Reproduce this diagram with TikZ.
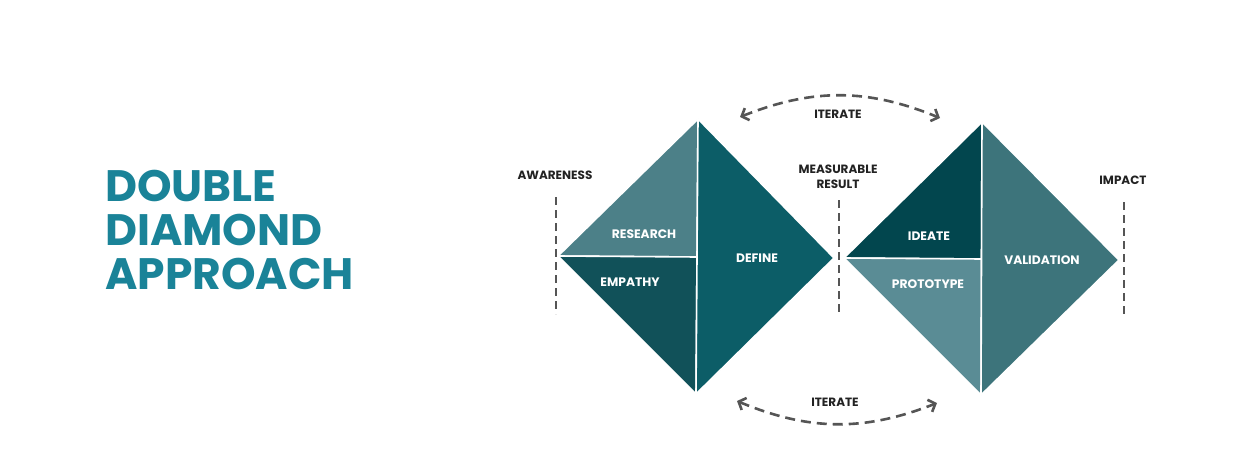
\documentclass[tikz,border=0pt]{standalone}
\usepackage{fontspec}
\setmainfont{Poppins}
\usetikzlibrary{arrows.meta}

\definecolor{titleteal}{HTML}{1A8398}
\definecolor{research}{HTML}{4C8088}
\definecolor{empathy}{HTML}{115159}
\definecolor{define}{HTML}{0C5D67}
\definecolor{ideate}{HTML}{02464E}
\definecolor{prototype}{HTML}{5A8C95}
\definecolor{validation}{HTML}{3D747B}
\definecolor{dashgray}{HTML}{555555}
\definecolor{labelink}{HTML}{222222}

\begin{document}
\begin{tikzpicture}[x=1pt,y=-1pt,
  piece/.style={draw=white,line width=1.6pt,line join=miter},
  inlbl/.style={text=white,inner sep=0pt,anchor=base,font=\fontsize{12.3}{14}\selectfont\bfseries},
  outlbl/.style={text=labelink,inner sep=0pt,align=center,font=\fontsize{12}{14.5}\selectfont\bfseries},
  stage/.style={draw=dashgray,line width=2.2pt,dash pattern=on 8pt off 5pt},
  loop/.style={draw=dashgray,line width=2.6pt,dash pattern=on 10pt off 6pt,
    {Straight Barb[length=6pt,width=13pt]}-{Straight Barb[length=6pt,width=13pt]}}]
  \useasboundingbox (0,0) rectangle (1236,476);

  % Title
  \node[anchor=north west,inner sep=0pt,align=left,text=titleteal,
    font=\fontsize{44}{44}\selectfont\bfseries] (title) at (105,170)
    {DOUBLE\\DIAMOND\\APPROACH};

  % First diamond corners
  \coordinate (t1) at (698,119);
  \coordinate (l1) at (558,256);
  \coordinate (r1) at (834,258);
  \coordinate (b1) at (696,394);
  \coordinate (c1) at (697,257);

  % Second diamond corners
  \coordinate (t2) at (982,122);
  \coordinate (l2) at (844,258);
  \coordinate (r2) at (1119,260);
  \coordinate (b2) at (981,395);
  \coordinate (c2) at (981.5,259);

  % First diamond pieces
  \filldraw[piece,fill=research] (l1)--(t1)--(c1)--cycle;
  \filldraw[piece,fill=empathy] (l1)--(c1)--(b1)--cycle;
  \filldraw[piece,fill=define] (t1)--(r1)--(b1)--cycle;

  % Second diamond pieces
  \filldraw[piece,fill=ideate] (l2)--(t2)--(c2)--cycle;
  \filldraw[piece,fill=prototype] (l2)--(c2)--(b2)--cycle;
  \filldraw[piece,fill=validation] (t2)--(r2)--(b2)--cycle;

  % Labels inside the pieces
  \node[inlbl] (research) at (644,238) {RESEARCH};
  \node[inlbl] (empathy) at (630,286) {EMPATHY};
  \node[inlbl] (define) at (757,262) {DEFINE};
  \node[inlbl] (ideate) at (929,240) {IDEATE};
  \node[inlbl] (prototype) at (928,288) {PROTOTYPE};
  \node[inlbl] (validation) at (1042,264) {VALIDATION};

  % Stage markers
  \node[outlbl] (awareness) at (555,175) {AWARENESS};
  \node[outlbl] (measurable) at (838,177) {MEASURABLE\\RESULT};
  \node[outlbl] (impact) at (1123,180) {IMPACT};
  \coordinate (aw top) at (556,197);
  \coordinate (aw bot) at (556,314);
  \coordinate (mr top) at (839,200);
  \coordinate (mr bot) at (839,316);
  \coordinate (im top) at (1124,202);
  \coordinate (im bot) at (1124,318);
  \draw[stage] (aw top) -- (aw bot);
  \draw[stage] (mr top) -- (mr bot);
  \draw[stage] (im top) -- (im bot);

  % Iterate loops
  \coordinate (up a) at (740,117);
  \coordinate (up b) at (940,118);
  \coordinate (dn a) at (737,401);
  \coordinate (dn b) at (937,403);
  \draw[loop] (up a) to[bend left=22] (up b);
  \draw[loop] (dn a) to[bend right=22] (dn b);
  \node[outlbl] (iter up) at (838,114) {ITERATE};
  \node[outlbl] (iter dn) at (835,402) {ITERATE};
\end{tikzpicture}
\end{document}
